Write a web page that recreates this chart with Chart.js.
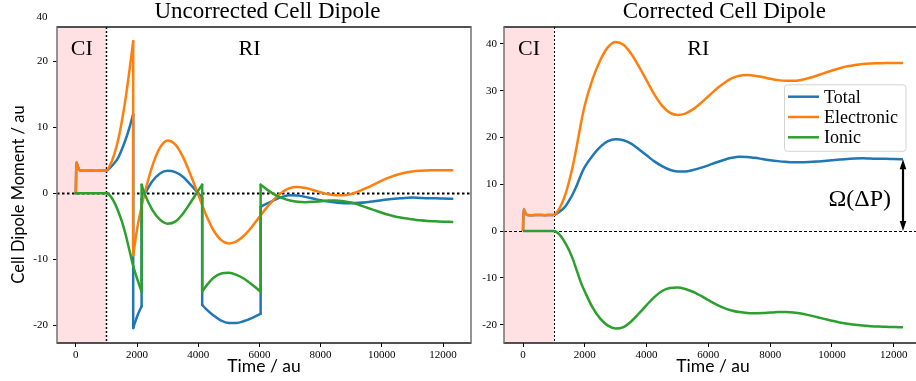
<!DOCTYPE html>
<html>
<head>
<meta charset="utf-8">
<script src="https://cdn.jsdelivr.net/npm/chart.js@4.4.1/dist/chart.umd.min.js"></script>
<style>
  html, body { margin: 0; padding: 0; background: #fff; overflow: hidden; }
  #wrap { position: relative; width: 916px; height: 381px; overflow: hidden; }
  canvas { position: absolute; top: 0; }
  #uncorrected { left: 0; }
  #corrected { left: 460px; }
</style>
</head>
<body>
<div id="wrap">
  <canvas id="uncorrected" width="480" height="381"></canvas>
  <canvas id="corrected" width="480" height="381"></canvas>
</div>
<script>
// ---- data (time in au, dipole moment in au) ----
const ciEnd = 1000;

const timeCorrected = [0, 20, 50, 100, 150, 300, 500, 700, 900, 1000,
  1125, 1250, 1375, 1500, 1625, 1750, 1875,
  2000, 2250, 2500, 2750, 3000, 3250, 3500, 3750, 4000, 4250,
  4500, 4750, 5000, 5250, 5500, 5750, 6000, 6250, 6500, 6750,
  7000, 7250, 7500, 7750, 8000, 8250, 8500, 8750, 9000, 9250,
  9500, 9750, 10000, 10250, 10500, 10750, 11000, 11250, 11500, 11750,
  12000, 12300];

const electronicCorrected = [0, 4.7, 4.3, 3.6, 3.45, 3.4, 3.45, 3.4, 3.45, 3.45,
  4.3, 5.8, 7.9, 10.8, 14.3, 18.5, 23.0,
  26.9, 32.4, 36.5, 39.3, 40.4, 39.8, 37.9, 35.2, 32.2, 29.2,
  26.8, 25.3, 24.8, 25.1, 26.0, 27.3, 28.8, 30.3, 31.6, 32.6,
  33.2, 33.35, 33.2, 32.9, 32.55, 32.25, 32.1, 32.1, 32.3, 32.7,
  33.2, 33.75, 34.3, 34.8, 35.2, 35.5, 35.7, 35.8, 35.85, 35.9,
  35.9, 35.9];

const ionicCorrected = [0, 0, 0, 0, 0, 0, 0, 0, 0, 0,
  -0.4, -1.3, -2.6, -4.2, -6.2, -8.6, -11.0,
  -12.9, -16.3, -18.7, -20.2, -20.8, -20.5, -19.3, -17.6, -15.8, -14.1,
  -12.8, -12.15, -12.05, -12.35, -12.95, -13.8, -14.75, -15.65, -16.4, -16.95,
  -17.3, -17.5, -17.55, -17.5, -17.4, -17.3, -17.3, -17.4, -17.6, -17.95,
  -18.35, -18.75, -19.15, -19.5, -19.8, -20.0, -20.15, -20.3, -20.4, -20.45,
  -20.5, -20.55];

const totalCorrected = [0, 4.7, 4.3, 3.6, 3.45, 3.4, 3.45, 3.4, 3.45, 3.45,
  3.9, 4.5, 5.3, 6.6, 8.1, 9.9, 12.0,
  13.7, 16.1, 18.0, 19.2, 19.6, 19.4, 18.7, 17.5, 16.2, 14.9,
  13.9, 13.1, 12.75, 12.75, 13.05, 13.5, 14.05, 14.65, 15.2, 15.65,
  15.9, 15.85, 15.65, 15.4, 15.15, 14.95, 14.8, 14.7, 14.7, 14.75,
  14.85, 15.0, 15.15, 15.3, 15.4, 15.5, 15.55, 15.5, 15.45, 15.45,
  15.4, 15.35];

// a repeated time marks a discontinuity: value before, then value after
const timeUncorrected = [0, 20, 50, 100, 150, 300, 500, 700, 900, 1000,
  1125, 1250, 1375, 1500, 1625, 1750, 1875, 1875,
  2000, 2150, 2150, 2250, 2500, 2750, 3000, 3250, 3500, 3750, 4000, 4130, 4130, 4250,
  4500, 4750, 5000, 5250, 5500, 5750, 6000, 6040, 6040, 6250, 6500, 6750,
  7000, 7250, 7500, 7750, 8000, 8250, 8500, 8750, 9000, 9250,
  9500, 9750, 10000, 10250, 10500, 10750, 11000, 11250, 11500, 11750,
  12000, 12300];

const electronicUncorrected = [0, 4.7, 4.3, 3.6, 3.45, 3.4, 3.45, 3.4, 3.45, 3.45,
  4.3, 5.8, 7.9, 10.8, 14.3, 18.5, 23.0, -9.4,
  -5.5, -2.0, -2.0, 0.0, 4.1, 6.9, 8.0, 7.4, 5.5, 2.8, -0.2, -1.8, -1.8, -3.2,
  -5.6, -7.1, -7.6, -7.3, -6.4, -5.1, -3.6, -3.35, -3.35, -2.1, -0.8, 0.2,
  0.8, 0.95, 0.8, 0.5, 0.15, -0.15, -0.3, -0.3, -0.1, 0.3,
  0.8, 1.35, 1.9, 2.4, 2.8, 3.1, 3.3, 3.4, 3.45, 3.5,
  3.5, 3.5];

const ionicUncorrected = [0, 0, 0, 0, 0, 0, 0, 0, 0, 0,
  -0.4, -1.3, -2.6, -4.2, -6.2, -8.6, -11.0, -11.0,
  -12.9, -14.9, 1.3, -0.1, -2.5, -4.0, -4.6, -4.3, -3.1, -1.4, 0.4, 1.3, -14.9, -14.1,
  -12.8, -12.15, -12.05, -12.35, -12.95, -13.8, -14.75, -14.9, 1.3, 0.55, -0.2, -0.75,
  -1.1, -1.3, -1.35, -1.3, -1.2, -1.1, -1.1, -1.2, -1.4, -1.75,
  -2.15, -2.55, -2.95, -3.3, -3.6, -3.8, -3.95, -4.1, -4.2, -4.25,
  -4.3, -4.35];

const totalUncorrected = [0, 4.7, 4.3, 3.6, 3.45, 3.4, 3.45, 3.4, 3.45, 3.45,
  3.9, 4.5, 5.3, 6.6, 8.1, 9.9, 12.0, -20.4,
  -18.7, -17.1, -0.9, -0.1, 1.8, 3.0, 3.4, 3.2, 2.5, 1.3, 0.0, -0.7, -16.9, -17.5,
  -18.5, -19.3, -19.65, -19.65, -19.35, -18.9, -18.35, -18.25, -2.05, -1.55, -1.0, -0.55,
  -0.3, -0.35, -0.55, -0.8, -1.05, -1.25, -1.4, -1.5, -1.5, -1.45,
  -1.35, -1.2, -1.05, -0.9, -0.8, -0.7, -0.65, -0.7, -0.75, -0.75,
  -0.8, -0.85];

const xTicks = [0, 2000, 4000, 6000, 8000, 10000, 12000];
const yTicksUncorrected = [-20, -10, 0, 10, 20];
const yTicksCorrected = [-20, -10, 0, 10, 20, 30, 40];

const seriesNames = ['Total', 'Electronic', 'Ionic'];
const seriesColors = ['#1f77b4', '#ff7f0e', '#2ca02c'];
const seriesOrder = [2, 1, 0];   // ionic on top, total underneath

const SERIF = '"Liberation Serif", "Times New Roman", serif';
const SANS = 'Lato, "Open Sans", sans-serif';

// ---- helpers ----
function zip(times, values) {
  return times.map((t, i) => ({ x: t, y: values[i] }));
}

// split a series at repeated times into smooth pieces plus vertical jumps
function splitAtJumps(times, values) {
  const curves = [], jumps = [];
  let cur = [];
  for (let i = 0; i < times.length; i++) {
    const p = { x: times[i], y: values[i] };
    if (i > 0 && times[i] === times[i - 1]) {
      if (values[i] !== values[i - 1]) {
        curves.push(cur);
        jumps.push([{ x: times[i - 1], y: values[i - 1] }, p]);
        cur = [p];
      }
      continue;
    }
    cur.push(p);
  }
  curves.push(cur);
  return { curves, jumps };
}

function lineStyle(k, extra) {
  return Object.assign({
    borderColor: seriesColors[k],
    backgroundColor: seriesColors[k],
    borderWidth: 2.5,
    pointRadius: 0,
    fill: false,
    order: seriesOrder[k]
  }, extra);
}

function uncorrectedDatasets() {
  const series = [totalUncorrected, electronicUncorrected, ionicUncorrected];
  const out = [];
  series.forEach((vals, k) => {
    const { curves, jumps } = splitAtJumps(timeUncorrected, vals);
    curves.forEach(c => out.push(lineStyle(k, {
      label: seriesNames[k], data: c, cubicInterpolationMode: 'monotone',
      borderCapStyle: 'round', borderJoinStyle: 'round'
    })));
    jumps.forEach(j => out.push(lineStyle(k, {
      label: seriesNames[k], data: j, tension: 0,
      borderCapStyle: 'round'
    })));
  });
  return out;
}

function correctedDatasets() {
  const series = [totalCorrected, electronicCorrected, ionicCorrected];
  return series.map((vals, k) => lineStyle(k, {
    label: seriesNames[k], data: zip(timeCorrected, vals),
    cubicInterpolationMode: 'monotone', borderJoinStyle: 'round'
  }));
}

// shading, reference lines, frame and in-plot annotations
function decorPlugin(cfg) {
  return {
    id: 'decor',
    beforeDatasetsDraw(chart) {
      const { ctx, chartArea: a, scales: { x, y } } = chart;
      ctx.save();
      const xe = x.getPixelForValue(ciEnd);
      ctx.fillStyle = 'rgb(255, 225, 228)';
      ctx.fillRect(a.left, a.top, xe - a.left, a.bottom - a.top);
      ctx.strokeStyle = '#000';
      ctx.lineWidth = cfg.refWidth;
      ctx.setLineDash(cfg.refDash);
      const y0 = Math.round(y.getPixelForValue(0)) + 0.5;
      ctx.beginPath(); ctx.moveTo(a.left, y0); ctx.lineTo(a.right, y0); ctx.stroke();
      const xv = Math.round(xe) + 0.5;
      ctx.lineWidth = cfg.vWidth;
      ctx.setLineDash(cfg.vDash);
      ctx.beginPath(); ctx.moveTo(xv, a.top); ctx.lineTo(xv, a.bottom); ctx.stroke();
      ctx.restore();
    },
    afterDatasetsDraw(chart) {
      const { ctx, chartArea: a, scales: { x, y } } = chart;
      ctx.save();
      // frame
      ctx.setLineDash([]);
      ctx.strokeStyle = '#1a1a1a'; ctx.lineWidth = 1.3;
      ctx.beginPath();
      ctx.moveTo(a.left - 0.5, a.top); ctx.lineTo(a.right + 0.5, a.top);
      ctx.moveTo(a.left - 0.5, a.bottom); ctx.lineTo(a.right + 0.5, a.bottom);
      ctx.stroke();
      ctx.strokeStyle = '#7a7a7a'; ctx.lineWidth = 1.6;
      ctx.beginPath();
      ctx.moveTo(a.left, a.top); ctx.lineTo(a.left, a.bottom);
      ctx.moveTo(a.right, a.top); ctx.lineTo(a.right, a.bottom);
      ctx.stroke();

      ctx.fillStyle = '#000';
      // panel title
      ctx.font = '23px ' + SERIF;
      ctx.textAlign = 'center'; ctx.textBaseline = 'alphabetic';
      ctx.fillText(cfg.title, cfg.titleX, 17.5);
      // region labels
      ctx.font = '22px ' + SERIF;
      ctx.fillText('CI', a.left + 0.06 * (a.right - a.left), a.top + 28);
      ctx.fillText('RI', a.left + 0.465 * (a.right - a.left), a.top + 28);

      if (cfg.yTitle) {
        ctx.save();
        ctx.translate(19, 194.5);
        ctx.rotate(-Math.PI / 2);
        ctx.font = '16.5px ' + SANS;
        ctx.textAlign = 'center'; ctx.textBaseline = 'middle';
        ctx.fillText(cfg.yTitle, 0, 0);
        ctx.restore();
      }
      if (cfg.strayTick) {
        ctx.font = '11px ' + SERIF;
        ctx.textAlign = 'right'; ctx.textBaseline = 'alphabetic';
        ctx.fillText(cfg.strayTick, 47.5, 20);
      }
      if (cfg.legend) {
        const w = 121.5, h = 66.5;
        const bx = a.right - 16.5 - w, by = a.top + 57.3;
        ctx.beginPath();
        ctx.roundRect(bx + 0.5, by + 0.5, w, h, 3);
        ctx.fillStyle = 'rgba(255,255,255,0.8)';
        ctx.fill();
        ctx.strokeStyle = '#d3d3d3'; ctx.lineWidth = 1;
        ctx.stroke();
        ctx.font = '18px ' + SERIF;
        ctx.textAlign = 'left'; ctx.textBaseline = 'alphabetic';
        seriesNames.forEach((name, k) => {
          const rowY = by + 12.4 + k * 20.3;
          ctx.strokeStyle = seriesColors[k]; ctx.lineWidth = 2.5;
          ctx.beginPath(); ctx.moveTo(bx + 4, rowY); ctx.lineTo(bx + 35, rowY); ctx.stroke();
          ctx.fillStyle = '#000';
          ctx.fillText(name, bx + 40, rowY + 5.8);
        });
      }
      if (cfg.arrow) {
        const tEnd = timeCorrected[timeCorrected.length - 1];
        const vEnd = totalCorrected[totalCorrected.length - 1];
        const ax = x.getPixelForValue(tEnd);
        const yTop = y.getPixelForValue(vEnd), yBot = y.getPixelForValue(0);
        const hl = 10, hw = 3.3;
        ctx.strokeStyle = '#000'; ctx.fillStyle = '#000'; ctx.lineWidth = 2.2;
        ctx.beginPath(); ctx.moveTo(ax, yTop + hl - 1); ctx.lineTo(ax, yBot - hl + 1); ctx.stroke();
        ctx.beginPath();
        ctx.moveTo(ax, yTop); ctx.lineTo(ax - hw, yTop + hl); ctx.lineTo(ax + hw, yTop + hl); ctx.closePath();
        ctx.moveTo(ax, yBot); ctx.lineTo(ax - hw, yBot - hl); ctx.lineTo(ax + hw, yBot - hl); ctx.closePath();
        ctx.fill();
        ctx.font = '24px ' + SERIF;
        ctx.textAlign = 'right'; ctx.textBaseline = 'alphabetic';
        ctx.fillText('Ω(ΔP)', ax - 12, 205.5);
      }
      ctx.restore();
    }
  };
}

function makeOptions(cfg) {
  const tickFont = { family: SERIF, size: 11 };
  return {
    responsive: false,
    animation: false,
    devicePixelRatio: 1,
    layout: { padding: { left: 0, right: cfg.padRight, top: 27, bottom: 0 } },
    plugins: { legend: { display: false }, tooltip: { enabled: false }, title: { display: false } },
    scales: {
      x: {
        type: 'linear', min: -615, max: 12915,
        afterBuildTicks: s => { s.ticks = xTicks.map(v => ({ value: v })); },
        afterFit: s => { s.height = 38; },
        grid: { drawOnChartArea: false, drawTicks: true, tickLength: 4, color: '#000', lineWidth: 1 },
        border: { display: false },
        ticks: { font: tickFont, color: '#000', padding: 2, maxRotation: 0, autoSkip: false, callback: v => String(v) },
        title: { display: true, text: 'Time / au', font: { family: SANS, size: 17.5 }, color: '#000', padding: { top: 0, bottom: 4 } }
      },
      y: {
        type: 'linear', min: cfg.yMin, max: cfg.yMax,
        afterBuildTicks: s => { s.ticks = cfg.yTicks.map(v => ({ value: v })); },
        afterFit: s => { s.width = cfg.yWidth; },
        grid: { drawOnChartArea: false, drawTicks: true, tickLength: 4, color: '#000', lineWidth: 1 },
        border: { display: false },
        ticks: { font: tickFont, color: '#000', padding: cfg.yPad, autoSkip: false, callback: v => String(v) }
      }
    }
  };
}

const leftCfg = {
  title: 'Uncorrected Cell Dipole', titleX: 267.5,
  yTitle: 'Cell Dipole Moment / au', strayTick: '40',
  refWidth: 1.8, refDash: [2.5, 2.5], vWidth: 1.5, vDash: [2, 2],
  padRight: 9, yWidth: 57, yPad: 5,
  yMin: -22.675, yMax: 25.175, yTicks: yTicksUncorrected
};
const rightCfg = {
  title: 'Corrected Cell Dipole', titleX: 264.3,
  legend: true, arrow: true,
  refWidth: 1, refDash: [3, 2], vWidth: 1, vDash: [2, 2],
  padRight: 18, yWidth: 44, yPad: 3,
  yMin: -23.9, yMax: 43.6, yTicks: yTicksCorrected
};

new Chart(document.getElementById('uncorrected'), {
  type: 'line',
  data: { datasets: uncorrectedDatasets() },
  options: makeOptions(leftCfg),
  plugins: [decorPlugin(leftCfg)]
});

new Chart(document.getElementById('corrected'), {
  type: 'line',
  data: { datasets: correctedDatasets() },
  options: makeOptions(rightCfg),
  plugins: [decorPlugin(rightCfg)]
});
</script>
</body>
</html>
